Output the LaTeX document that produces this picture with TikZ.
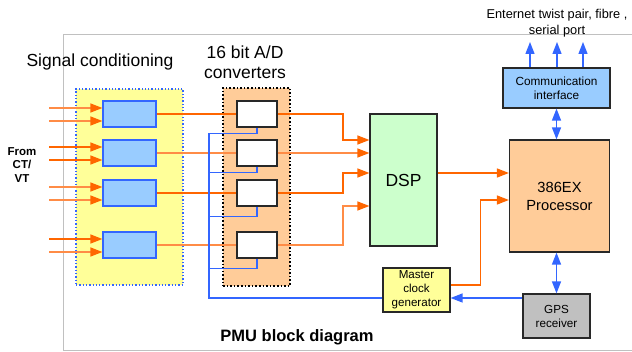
\documentclass[tikz,border=0pt]{standalone}
\usepackage{fontspec}
\setmainfont{Liberation Sans}
\usepackage{xcolor}
\usetikzlibrary{arrows.meta, positioning, calc}
\definecolor{sigorange}{RGB}{255, 102, 0}
\definecolor{sigpale}{RGB}{255, 140, 70}
\definecolor{clkblue}{RGB}{51, 102, 255}
\definecolor{condfill}{RGB}{255, 255, 153}
\definecolor{adfill}{RGB}{255, 204, 153}
\definecolor{blockblue}{RGB}{153, 204, 255}
\definecolor{dspgreen}{RGB}{204, 255, 204}
\definecolor{gpsgray}{RGB}{192, 192, 192}
\definecolor{dark}{RGB}{40, 40, 40}
\definecolor{framegray}{RGB}{192, 192, 192}
\tikzset{
    blk/.style={rectangle, draw=dark, line width=1.2pt, align=center, inner sep=2pt},
    condbox/.style={blk, fill=blockblue, draw=clkblue, minimum width=53pt, minimum height=26pt},
    adbox/.style={blk, fill=white, minimum width=40pt, minimum height=26pt},
    grp/.style={rectangle, inner sep=0pt},
    txt/.style={inner sep=0pt, align=center},
    oline/.style={line width=1.4pt, sigorange},
    pline/.style={line width=1.4pt, sigpale},
    oarr/.style={oline, -{Triangle[length=12pt, width=9pt, color=sigorange]}},
    parr/.style={pline, -{Triangle[length=12pt, width=9pt, color=sigorange]}},
    bline/.style={line width=1.3pt, clkblue},
    barr/.style={bline, -{Triangle[length=12pt, width=9pt]}},
    bdarr/.style={bline, {Triangle[length=12pt, width=9pt]}-{Triangle[length=12pt, width=9pt]}}
}

\begin{document}
\begin{tikzpicture}[x=1pt, y=-1pt]
    \useasboundingbox (0,0) rectangle (632,352);
    % frame
    \draw[framegray, line width=1pt] (63,351) -- (63,35) -- (632,35);
    \draw[framegray, line width=1.5pt] (63,350.5) -- (632,350.5);
    % groups
    \node[grp, fill=condfill, draw=clkblue, line width=1.3pt, dotted, minimum width=107pt, minimum height=196pt] (scgrp) at (129.5,187) {};
    \node[grp, fill=adfill, draw=black, line width=1.6pt, dotted, minimum width=67pt, minimum height=198pt] (adgrp) at (256.5,187) {};
    \node[txt, font=\fontsize{17.5}{20}\selectfont] (sclabel) at (100,62) {Signal conditioning};
    \node[txt, font=\fontsize{17.5}{20}\selectfont] (adlabel) at (245,62) {16 bit A/D\\converters};
    \node[txt, font=\fontsize{11.5}{13.5}\selectfont\bfseries] (from) at (22,165) {From\\CT/\\VT};
    % conditioning and A/D rows
    \foreach \i/\y in {1/114, 2/153, 3/193, 4/245} {
        \node[condbox] (sc\i) at (129.5,\y) {};
        \node[adbox] (ad\i) at (257,\y) {};
        \coordinate (in\i a) at (49,\y-6);
        \coordinate (in\i b) at (49,\y+7);
    }
    \draw[parr] (in1a) -- (in1a -| sc1.west); \draw[parr] (in1b) -- (in1b -| sc1.west);
    \draw[oarr] (in2a) -- (in2a -| sc2.west); \draw[oarr] (in2b) -- (in2b -| sc2.west);
    \draw[parr] (in3a) -- (in3a -| sc3.west); \draw[parr] (in3b) -- (in3b -| sc3.west);
    \draw[oarr] (in4a) -- (in4a -| sc4.west); \draw[parr] (in4b) -- (in4b -| sc4.west);
    \draw[oline] (sc1) -- (ad1); \draw[pline] (sc2) -- (ad2);
    \draw[oline] (sc3) -- (ad3); \draw[pline] (sc4) -- (ad4);
    % main blocks
    \node[blk, fill=dspgreen, minimum width=67pt, minimum height=132pt, font=\fontsize{17.5}{20}\selectfont] (dsp) at (403.5,180) {DSP};
    \node[blk, fill=adfill, minimum width=100pt, minimum height=112pt, font=\fontsize{14.7}{18}\selectfont] (cpu) at (559.5,196) {386EX\\Processor};
    \node[blk, fill=blockblue, minimum width=107pt, minimum height=40pt, font=\fontsize{11.8}{14}\selectfont] (comm) at (556.5,88) {Communication\\interface};
    \node[blk, fill=gpsgray, minimum width=67pt, minimum height=44pt, font=\fontsize{11.7}{14}\selectfont] (gps) at (556.5,316) {GPS\\receiver};
    \node[blk, fill=condfill, minimum width=67pt, minimum height=44pt, font=\fontsize{11.6}{14}\selectfont] (clk) at (416.5,290) {Master\\clock\\generator};
    \node[txt, font=\fontsize{12.8}{16}\selectfont] (net) at (557,23) {Enternet twist pair, fibre ,\\serial port};
    \node[txt, font=\fontsize{16.5}{20}\selectfont\bfseries] (title) at (297,337) {PMU block diagram};
    % A/D to DSP
    \coordinate (bend) at (343,0);
    \draw[oarr] (ad1.east) -- (ad1.east -| bend) |- ([yshift=40pt]dsp.west);
    \draw[parr] (ad2.east) -- (ad2.east -| dsp.west);
    \draw[oarr] (ad3.east) -- (ad3.east -| bend) |- ([yshift=7pt]dsp.west);
    \draw[parr] (ad4.east) -- (ad4.east -| bend) |- ([yshift=-26pt]dsp.west);
    \draw[oarr] ([yshift=7pt]dsp.east) -- ([yshift=7pt]dsp.east -| cpu.west);
    \draw[oarr] ([yshift=5pt]clk.east) -- ++(30,0) |- ([yshift=-4pt]cpu.west);
    % clock distribution
    \coordinate (bustop) at (209,133);
    \draw[bline] ([yshift=-8pt]clk.west) -| (bustop);
    \draw[bline] (ad1.south) -- ++(0,6) -| (bustop);
    \draw[bline] (ad2.south) -- ++(0,6) -| (bustop);
    \draw[bline] (ad3.south) -- ++(0,10) -| (bustop);
    \draw[bline] (ad4.south) -- ++(0,10) -| (bustop);
    \draw[barr] ([yshift=18pt]gps.west) -- ([yshift=18pt]gps.west -| clk.east);
    % communication
    \foreach \i/\x in {1/530, 2/557, 3/583} {
        \coordinate (out\i) at (\x,42);
        \draw[barr] (comm.north -| out\i) -- (out\i);
    }
    \draw[bdarr] (comm.south) -- (comm.south |- cpu.north);
    \draw[bdarr] (cpu.south -| gps.north) -- (gps.north);
\end{tikzpicture}
\end{document}
